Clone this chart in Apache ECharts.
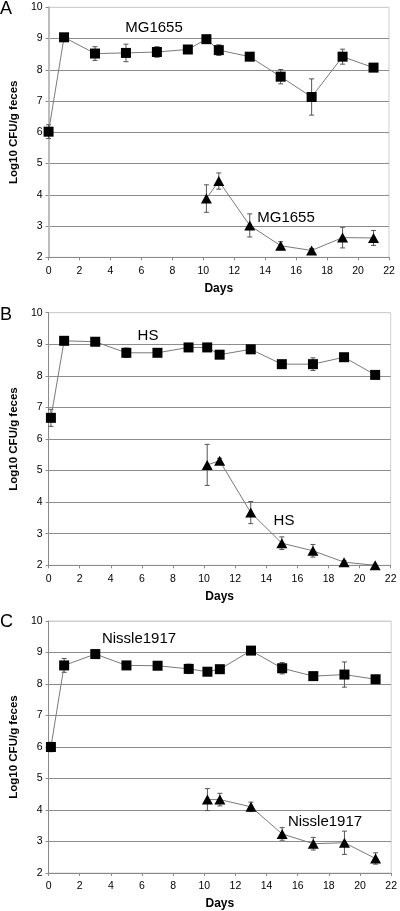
<!DOCTYPE html>
<html><head><meta charset="utf-8">
<script src="https://cdn.jsdelivr.net/npm/echarts@6/dist/echarts.min.js"></script>
<style>html,body{margin:0;padding:0;background:#fff}#c{width:400px;height:911px}</style>
</head><body><div id="c"></div>
<script>
// ---- data ----
const xTicks = [0,2,4,6,8,10,12,14,16,18,20,22];
const yTicks = [2,3,4,5,6,7,8,9,10];

const daysSqA = [0,1,3,5,7,9,10.2,11,13,15,17,19,21];
const valSqA  = [6.02,9.04,8.52,8.54,8.57,8.65,8.98,8.63,8.42,7.78,7.13,8.42,8.07];
const errSqA  = [0.22,0.05,0.22,0.28,0.17,0.08,0.05,0.17,0.08,0.23,0.58,0.24,0.08];
const daysTrA = [10.2,11,13,15,17,19,21];
const valTrA  = [3.88,4.44,3.02,2.37,2.22,2.63,2.62];
const errTrA  = [0.44,0.26,0.37,0.13,0.06,0.33,0.24];

const daysSqB = [0.15,1,3,5,7,9,10.2,11,13,15,17,19,21];
const valSqB  = [6.67,9.11,9.08,8.73,8.73,8.9,8.9,8.67,8.84,8.37,8.37,8.59,8.03];
const errSqB  = [0.27,0.05,0.05,0.15,0.05,0.05,0.05,0.05,0.05,0.08,0.2,0.05,0.05];
const daysTrB = [10.2,11,13,15,17,19,21];
const valTrB  = [5.18,5.31,3.67,2.7,2.46,2.1,2.0];
const errTrB  = [0.65,0.08,0.35,0.2,0.2,0.05,0.03];

const daysSqC = [0.15,1,3,5,7,9,10.2,11,13,15,17,19,21];
const valSqC  = [6.0,8.59,8.95,8.59,8.58,8.48,8.39,8.47,9.06,8.5,8.25,8.3,8.15];
const errSqC  = [0.15,0.22,0.08,0.08,0.06,0.15,0.05,0.05,0.05,0.18,0.12,0.4,0.12];
const daysTrC = [10.2,11,13,15,17,19,21];
const valTrC  = [4.33,4.33,4.1,3.24,2.93,2.96,2.46];
const errTrC  = [0.35,0.2,0.15,0.2,0.2,0.37,0.18];

const panelLetters = ['A','B','C'];
const strainNames = ['MG1655','HS','Nissle1917'];
const xName = 'Days';
const yName = 'Log10 CFU/g feces';

// ---- build ----
const panels = [
  {sqD:daysSqA, sqV:valSqA, sqE:errSqA, trD:daysTrA, trV:valTrA, trE:errTrA},
  {sqD:daysSqB, sqV:valSqB, sqE:errSqB, trD:daysTrB, trV:valTrB, trE:errTrB},
  {sqD:daysSqC, sqV:valSqC, sqE:errSqC, trD:daysTrC, trV:valTrC, trE:errTrC}
];
const gridLayout = [
  {left:41.7, top:7.3, width:347.3, height:250},
  {left:45, top:312.7, width:345.7, height:252.6},
  {left:45.7, top:621, width:348.3, height:252.7}
];
const yAxisLineStyle = [
  {color:'#bdbdbd', width:2},
  {color:'#8a8a8a', width:1},
  {color:'#8a8a8a', width:1}
];
const FONT = 'Liberation Sans, Arial, Helvetica, sans-serif';
const splitColors = yTicks.map((t,i)=> i===yTicks.length-1 ? '#cfcfcf' : '#8c8c8c');

const grid=[], xAxis=[], yAxis=[], series=[];
panels.forEach((p,i)=>{
  grid.push(Object.assign({show:true, borderColor:'#cfcfcf', borderWidth:1, backgroundColor:'transparent'}, gridLayout[i]));
  xAxis.push({
    type:'value', gridIndex:i, min:0, max:22, interval:2,
    name:xName, nameLocation:'middle', nameGap:25,
    nameTextStyle:{fontFamily:FONT, fontWeight:'bold', fontSize:12, color:'#000'},
    axisLine:{show:true, onZero:false, lineStyle:{color:'#8a8a8a', width:1}},
    axisTick:{show:true, length:3, lineStyle:{color:'#8a8a8a'}},
    axisLabel:{fontFamily:FONT, fontSize:10.5, color:'#000', margin:8},
    splitLine:{show:false}
  });
  yAxis.push({
    type:'value', gridIndex:i, min:2, max:10, interval:1,
    name:yName, nameLocation:'middle', nameGap:24, nameRotate:90,
    nameTextStyle:{fontFamily:FONT, fontWeight:'bold', fontSize:11.5, color:'#000'},
    axisLine:{show:true, onZero:false, lineStyle:yAxisLineStyle[i]},
    axisTick:{show:true, length:3, lineStyle:{color:'#8a8a8a'}},
    axisLabel:{fontFamily:FONT, fontSize:10.5, color:'#000', margin:6},
    splitLine:{show:true, lineStyle:{color:splitColors, width:1}}
  });
  const errData = (d,v,e)=> d.map((x,k)=>[x, v[k], e[k]]);
  const errSeries = (data)=>({
    type:'custom', xAxisIndex:i, yAxisIndex:i, z:1, clip:false, silent:true,
    data:data,
    renderItem:(params, api)=>{
      const x=api.value(0), y=api.value(1), e=api.value(2);
      const t=api.coord([x,y+e]), b=api.coord([x,y-e]);
      const w=2.5, st={stroke:'#555', lineWidth:1};
      return {type:'group', children:[
        {type:'line', shape:{x1:t[0],y1:t[1],x2:b[0],y2:b[1]}, style:st},
        {type:'line', shape:{x1:t[0]-w,y1:t[1],x2:t[0]+w,y2:t[1]}, style:st},
        {type:'line', shape:{x1:b[0]-w,y1:b[1],x2:b[0]+w,y2:b[1]}, style:st}
      ]};
    }
  });
  series.push(errSeries(errData(p.sqD,p.sqV,p.sqE)));
  series.push(errSeries(errData(p.trD,p.trV,p.trE)));
  series.push({
    type:'line', xAxisIndex:i, yAxisIndex:i, z:3, clip:false, animation:false,
    data:p.sqD.map((x,k)=>[x,p.sqV[k]]),
    symbol:'rect', symbolSize:10,
    itemStyle:{color:'#000'},
    lineStyle:{color:'#7a7a7a', width:1}
  });
  series.push({
    type:'line', xAxisIndex:i, yAxisIndex:i, z:3, clip:false, animation:false,
    data:p.trD.map((x,k)=>[x,p.trV[k]]),
    symbol:'triangle', symbolSize:[11,10],
    itemStyle:{color:'#000'},
    lineStyle:{color:'#7a7a7a', width:1}
  });
});

const labelPos = [
  {letter:[0,0], s1:[154,28], s2:[286,218]},
  {letter:[0,306], s1:[148,336], s2:[284,521]},
  {letter:[0,613], s1:[139,639], s2:[325,822]}
];
const graphic=[];
labelPos.forEach((lp,i)=>{
  graphic.push({type:'text', left:lp.letter[0], top:lp.letter[1],
    style:{text:panelLetters[i], font:'18px '+FONT, fill:'#000'}});
  graphic.push({type:'text', x:lp.s1[0], y:lp.s1[1],
    style:{text:strainNames[i], font:'15px '+FONT, fill:'#000', align:'center', verticalAlign:'middle'}});
  graphic.push({type:'text', x:lp.s2[0], y:lp.s2[1],
    style:{text:strainNames[i], font:'15px '+FONT, fill:'#000', align:'center', verticalAlign:'middle'}});
});

const chart = echarts.init(document.getElementById('c'), null, {renderer:'canvas'});
chart.setOption({
  animation:false,
  backgroundColor:'#fff',
  textStyle:{fontFamily:FONT},
  grid, xAxis, yAxis, series, graphic
});
</script></body></html>
